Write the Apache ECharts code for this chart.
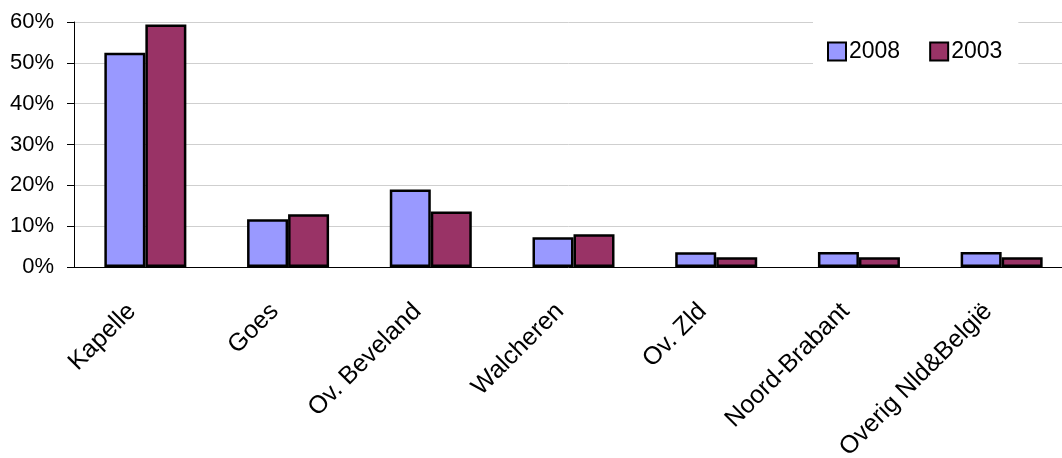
<!DOCTYPE html>
<html>
<head>
<meta charset="utf-8">
<title>Herkomst</title>
<script src="https://cdn.jsdelivr.net/npm/echarts@6/dist/echarts.min.js"></script>
<style>
    html, body {
        margin: 0;
        padding: 0;
        background: #fff;
    }

    #herkomstBar {
        width: 1062px;
        height: 458px;
    }
</style>
</head>
<body>
<div id="herkomstBar"></div>
<script>
    let categories = ['Kapelle', 'Goes', 'Ov. Beveland', 'Walcheren', 'Ov. Zld', 'Noord-Brabant', 'Overig Nld&België'];
    let values2008 = [52.5, 11.7, 19.0, 7.3, 3.6, 3.7, 3.7];
    let values2003 = [59.4, 12.9, 13.6, 8.0, 2.4, 2.4, 2.4];
    let yTicks = [0, 10, 20, 30, 40, 50, 60];

    let font = 'Liberation Sans, Arial, sans-serif';
    let myChart = echarts.init(document.getElementById('herkomstBar'));

    let option = {
        animation: false,
        textStyle: {
            fontFamily: font
        },
        legend: {
            data: ['2008', '2003'],
            left: 813,
            top: 20,
            padding: [20, 16, 5, 14],
            backgroundColor: '#fff',
            itemWidth: 18,
            itemHeight: 18,
            itemGap: 29,
            icon: 'rect',
            textStyle: {
                color: '#000',
                fontSize: 23,
                fontFamily: font,
                padding: [0, 0, 0, -2]
            }
        },
        grid: {
            left: 74,
            top: 22,
            width: 999,
            height: 245,
            outerBoundsMode: 'none',
            containLabel: false
        },
        xAxis: {
            type: 'category',
            data: categories,
            axisLine: {
                lineStyle: {
                    color: '#000',
                    width: 1
                }
            },
            axisTick: {
                length: 8,
                lineStyle: {
                    color: '#000'
                }
            },
            axisLabel: {
                interval: 0,
                rotate: 45,
                margin: 27,
                padding: [0, 19, 0, 0],
                color: '#000',
                fontSize: 25,
                fontFamily: font
            }
        },
        yAxis: {
            type: 'value',
            min: yTicks[0],
            max: yTicks[yTicks.length - 1],
            interval: 10,
            axisLine: {
                show: true,
                lineStyle: {
                    color: '#000',
                    width: 1
                }
            },
            axisTick: {
                show: true,
                length: 7,
                lineStyle: {
                    color: '#000'
                }
            },
            axisLabel: {
                margin: 20,
                color: '#000',
                fontSize: 22,
                fontFamily: font,
                formatter: '{value}%'
            },
            splitLine: {
                lineStyle: {
                    color: '#cfcfcf',
                    width: 1
                }
            }
        },
        series: [
            {
                name: '2008',
                type: 'bar',
                data: values2008,
                barWidth: 41,
                barGap: '0%',
                itemStyle: {
                    color: '#9999ff',
                    borderColor: '#000',
                    borderWidth: 2.5
                }
            },
            {
                name: '2003',
                type: 'bar',
                data: values2003,
                barWidth: 41,
                barGap: '0%',
                itemStyle: {
                    color: '#993366',
                    borderColor: '#000',
                    borderWidth: 2.5
                }
            }
        ]
    };

    myChart.setOption(option);
</script>
</body>
</html>
